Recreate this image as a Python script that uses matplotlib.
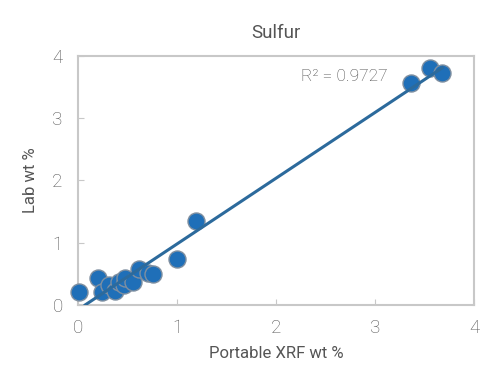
import numpy as np
import matplotlib.pyplot as plt

# Portable XRF vs lab sulfur values (wt %)
xrf = [0.01, 0.205, 0.24, 0.31, 0.37, 0.415, 0.46, 0.476, 0.56, 0.62, 0.71, 0.76,
       1.0, 1.19, 3.36, 3.56, 3.68]
lab = [0.20, 0.43, 0.20, 0.32, 0.23, 0.37, 0.32, 0.43, 0.37, 0.57, 0.52, 0.50,
       0.73, 1.34, 3.56, 3.80, 3.72]
r2_label = "R² = 0.9727"

TEXT = "#555555"
GRID = "#c8c8c8"

plt.rcParams['font.family'] = ['Roboto', 'DejaVu Sans']
plt.rcParams['font.weight'] = 'light'

fig = plt.figure(figsize=(5, 3.75), dpi=100)
ax = fig.add_axes([0.156, 0.187, 0.792, 0.664])

ax.scatter(xrf, lab, s=150, color="#1f6fb8", edgecolor="#7f8fa0", linewidth=1.0,
           zorder=3, clip_on=False)

# linear trend line
slope, intercept = np.polyfit(xrf, lab, 1)
x0 = -intercept / slope
xs = np.array([x0, max(xrf)])
ax.plot(xs, slope * xs + intercept, color="#2c6a9c", linewidth=2.2, zorder=4)

ax.text(2.25, 3.67, r2_label, fontsize=12.5, color="#4a4a4a", va="center", ha="left")

ax.set_xlim(0, 4)
ax.set_ylim(0, 4)
ax.set_xticks([0, 1, 2, 3, 4])
ax.set_yticks([0, 1, 2, 3, 4])
ax.tick_params(direction="in", length=4, color=GRID, labelcolor=TEXT, labelsize=13.5)
ax.tick_params(axis="x", pad=10)
ax.tick_params(axis="y", pad=11)
for sp in ax.spines.values():
    sp.set_color(GRID)
    sp.set_linewidth(1.5)

ax.set_title("Sulfur", fontsize=13.5, color=TEXT, pad=13)
ax.set_xlabel("Portable XRF wt %", fontsize=12, color=TEXT, labelpad=7)
ax.set_ylabel("Lab wt %", fontsize=12, color=TEXT, labelpad=10)

fig.savefig("out.png", dpi=100)
